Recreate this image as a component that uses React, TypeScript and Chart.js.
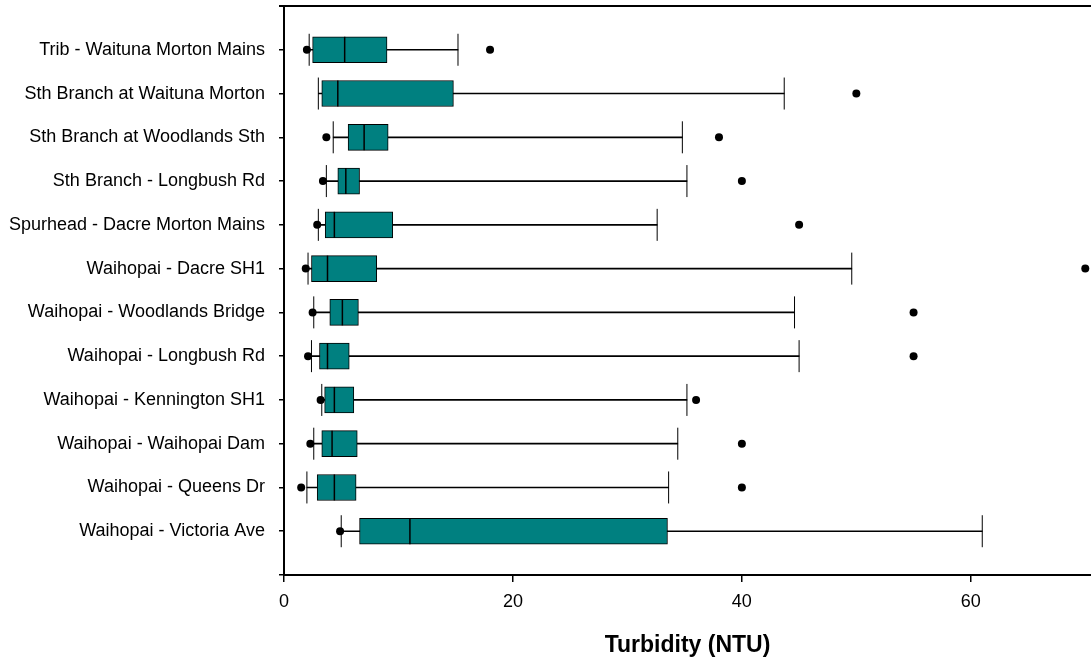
import { useEffect, useRef } from 'react';
import { Chart, registerables } from 'chart.js';

Chart.register(...registerables);

const sites = [
  'Trib - Waituna Morton Mains',
  'Sth Branch at Waituna Morton',
  'Sth Branch at Woodlands Sth',
  'Sth Branch - Longbush Rd',
  'Spurhead - Dacre Morton Mains',
  'Waihopai - Dacre SH1',
  'Waihopai - Woodlands Bridge',
  'Waihopai - Longbush Rd',
  'Waihopai - Kennington SH1',
  'Waihopai - Waihopai Dam',
  'Waihopai - Queens Dr',
  'Waihopai - Victoria Ave',
];

const whiskerLow = [2.2, 3.0, 4.3, 3.7, 3.0, 2.1, 2.6, 2.4, 3.3, 2.6, 2.0, 5.0];
const q1 = [2.5, 3.3, 5.6, 4.7, 3.6, 2.4, 4.0, 3.1, 3.55, 3.3, 2.9, 6.6];
const median = [5.3, 4.7, 7.0, 5.4, 4.4, 3.8, 5.1, 3.8, 4.4, 4.2, 4.4, 11.0];
const q3 = [9.0, 14.8, 9.1, 6.6, 9.5, 8.1, 6.5, 5.7, 6.1, 6.4, 6.3, 33.5];
const whiskerHigh = [15.2, 43.7, 34.8, 35.2, 32.6, 49.6, 44.6, 45.0, 35.2, 34.4, 33.6, 61.0];

const outlierSite = [0, 0, 1, 2, 2, 3, 3, 4, 4, 5, 5, 6, 6, 7, 7, 8, 8, 9, 9, 10, 10, 11];
const outlierValue = [2.0, 18, 50, 3.7, 38, 3.4, 40, 2.9, 45, 1.9, 70, 2.5, 55, 2.1, 55, 3.2, 36, 2.3, 40, 1.5, 40, 4.9];

const xTicks = [0, 20, 40, 60];

const FONT = 'Liberation Sans, Arial, Helvetica, sans-serif';

export default function App() {
  const ref = useRef<HTMLCanvasElement>(null);

  useEffect(() => {
    const idx = sites.map((_, i) => i);
    const topLine = {
      id: 'topLine',
      afterDraw(chart: any) {
        const { ctx, chartArea } = chart;
        ctx.save();
        ctx.strokeStyle = '#000';
        ctx.lineWidth = 2;
        ctx.beginPath();
        ctx.moveTo(chartArea.left - 5, chartArea.top);
        ctx.lineTo(chartArea.right, chartArea.top);
        ctx.stroke();
        ctx.restore();
      },
    };

    const chart = new Chart(ref.current!, {
      type: 'bar',
      data: {
        datasets: [
          {
            type: 'scatter',
            data: outlierValue.map((v, k) => ({ x: v, y: outlierSite[k] })),
            pointRadius: 4,
            pointHoverRadius: 4,
            pointBackgroundColor: '#000',
            pointBorderColor: '#000',
            pointBorderWidth: 0,
          } as any,
          {
            type: 'scatter',
            data: [
              ...idx.map((i) => ({ x: whiskerLow[i], y: i })),
              ...idx.map((i) => ({ x: whiskerHigh[i], y: i })),
            ],
            pointStyle: 'line',
            pointRotation: 90,
            pointRadius: 16,
            pointHoverRadius: 16,
            pointBorderColor: '#000',
            pointBorderWidth: 1,
          } as any,
          {
            type: 'scatter',
            data: idx.map((i) => ({ x: median[i], y: i })),
            pointStyle: 'line',
            pointRotation: 90,
            pointRadius: 13,
            pointHoverRadius: 13,
            pointBorderColor: '#000',
            pointBorderWidth: 1.5,
          } as any,
          {
            type: 'bar',
            indexAxis: 'y',
            grouped: false,
            data: idx.map((i) => ({ x: [q1[i], q3[i]], y: i })),
            backgroundColor: '#008080',
            borderColor: '#000',
            borderWidth: 1,
            borderSkipped: false,
            barThickness: 26,
          } as any,
          {
            type: 'bar',
            indexAxis: 'y',
            grouped: false,
            data: idx.map((i) => ({ x: [whiskerLow[i], whiskerHigh[i]], y: i })),
            backgroundColor: '#000',
            borderWidth: 0,
            barThickness: 1,
          } as any,
        ],
      },
      options: {
        indexAxis: 'y',
        animation: false,
        responsive: false,
        events: [],
        layout: { autoPadding: false, padding: { top: 6, left: 0, right: 0, bottom: 0 } },
        plugins: {
          legend: { display: false },
          tooltip: { enabled: false },
        },
        scales: {
          x: {
            type: 'linear',
            position: 'bottom',
            min: 0,
            max: 70.5,
            offset: false,
            afterBuildTicks: (s: any) => {
              s.ticks = xTicks.map((v) => ({ value: v }));
            },
            afterFit: (s: any) => {
              s.height = 87;
              s.paddingLeft = 0;
              s.paddingRight = 0;
            },
            ticks: {
              font: { family: FONT, size: 18 },
              color: '#000',
              padding: 9,
              maxRotation: 0,
              autoSkip: false,
            },
            grid: { offset: false, drawOnChartArea: false, drawTicks: true, tickLength: 7, color: '#000', lineWidth: 1.5 },
            border: { display: true, color: '#000', width: 2 },
            title: {
              display: true,
              text: 'Turbidity (NTU)',
              font: { family: FONT, size: 23, weight: 'bold' },
              color: '#000',
              padding: { top: 0, bottom: 3 },
            },
          },
          y: {
            type: 'linear',
            position: 'left',
            min: -1,
            max: 12,
            reverse: true,
            offset: false,
            afterBuildTicks: (s: any) => {
              s.ticks = Array.from({ length: 14 }, (_, k) => ({ value: k - 1 }));
            },
            afterFit: (s: any) => {
              s.width = 284;
              s.paddingTop = 0;
              s.paddingBottom = 0;
            },
            ticks: {
              font: { family: FONT, size: 18 },
              color: '#000',
              padding: 14,
              autoSkip: false,
              callback: (v: any) => sites[v as number] ?? '',
            },
            grid: { offset: false, drawOnChartArea: false, drawTicks: true, tickLength: 5, color: '#000', lineWidth: 1.5 },
            border: { display: true, color: '#000', width: 2 },
          },
        },
      } as any,
      plugins: [topLine],
    });
    return () => chart.destroy();
  }, []);

  return (
    <canvas
      ref={ref}
      width={1091}
      height={662}
      style={{ position: 'absolute', left: 0, top: 0, display: 'block', background: '#fff' }}
    />
  );
}
